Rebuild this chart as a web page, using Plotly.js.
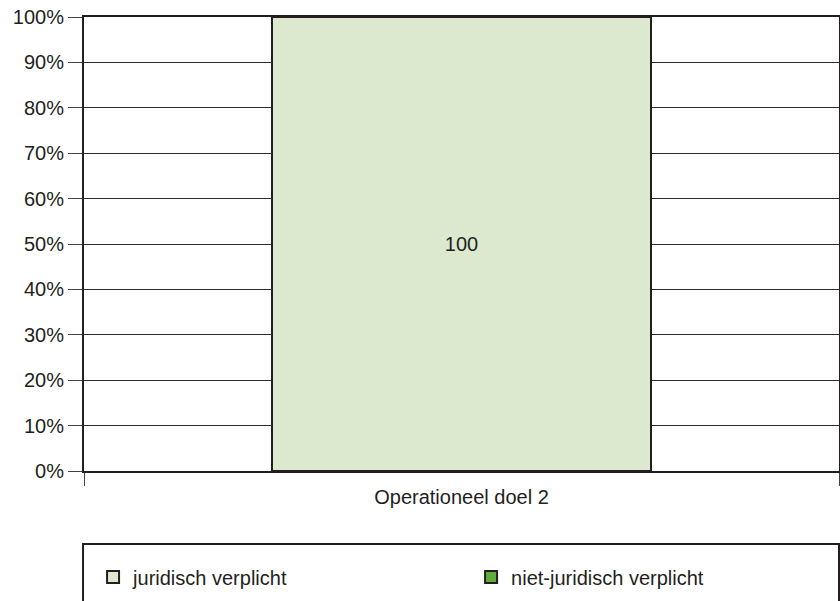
<!DOCTYPE html>
<html>
<head>
<meta charset="utf-8">
<script src="https://cdn.plot.ly/plotly-3.0.1.min.js"></script>
<style>html,body{margin:0;padding:0;background:#fff;}#chart{width:840px;height:601px;}</style>
</head>
<body>
<div id="chart"></div>
<script>
var categories = ['Operationeel doel 2'];
var seriesNames = ['juridisch verplicht', 'niet-juridisch verplicht'];
var juridischValues = [100];
var nietJuridischValues = [0];
var barLabels = ['100'];
var yTickValues = [0, 10, 20, 30, 40, 50, 60, 70, 80, 90, 100];
var yTickLabels = ['0%', '10%', '20%', '30%', '40%', '50%', '60%', '70%', '80%', '90%', '100%'];

var ink = '#231f20';
var traces = [
  {
    type: 'bar', name: seriesNames[0], x: categories, y: juridischValues,
    text: barLabels, textposition: 'inside', insidetextanchor: 'middle',
    textfont: {family: 'Liberation Sans, Arial, sans-serif', size: 20, color: ink},
    marker: {color: '#dde9cf', line: {color: ink, width: 2}},
    hoverinfo: 'none'
  },
  {
    type: 'bar', name: seriesNames[1], x: categories, y: nietJuridischValues,
    textposition: 'none',
    marker: {color: '#5fae3c', line: {color: ink, width: 2}},
    hoverinfo: 'none'
  }
];

var layout = {
  width: 840, height: 601,
  margin: {l: 84, r: 1, t: 17, b: 130, pad: 0, autoexpand: false},
  paper_bgcolor: '#ffffff', plot_bgcolor: '#ffffff',
  font: {family: 'Liberation Sans, Arial, sans-serif', size: 20, color: ink},
  barmode: 'stack',
  bargap: 0.497,
  showlegend: true,
  legend: {
    orientation: 'h', x: 0.012, xanchor: 'left', y: -0.2335, yanchor: 'middle',
    entrywidth: 333, entrywidthmode: 'pixels',
    bgcolor: 'rgba(0,0,0,0)', borderwidth: 0,
    font: {size: 20, color: ink}, traceorder: 'normal'
  },
  xaxis: {
    type: 'category',
    showline: true, mirror: true, linecolor: ink, linewidth: 2,
    ticks: 'outside', tickson: 'boundaries', ticklen: 13, tickcolor: '#444', tickwidth: 1,
    ticklabelstandoff: 7,
    showgrid: false, zeroline: false,
    tickfont: {size: 20, color: ink}
  },
  yaxis: {
    range: [0, 100], tickmode: 'array', tickvals: yTickValues, ticktext: yTickLabels,
    showline: true, mirror: true, linecolor: ink, linewidth: 2,
    ticks: 'outside', ticklen: 14, tickcolor: '#444', tickwidth: 1,
    showgrid: true, gridcolor: '#2e2e2e', gridwidth: 1,
    zeroline: false,
    tickfont: {size: 20, color: ink}
  },
  shapes: [
    {type: 'rect', xref: 'paper', yref: 'paper', x0: -0.0013, x1: 1.0, y0: -0.45, y1: -0.1608,
     line: {color: ink, width: 2}, fillcolor: 'rgba(0,0,0,0)', layer: 'above'}
  ]
};

Plotly.newPlot('chart', traces, layout, {staticPlot: true, displayModeBar: false});
</script>
</body>
</html>
